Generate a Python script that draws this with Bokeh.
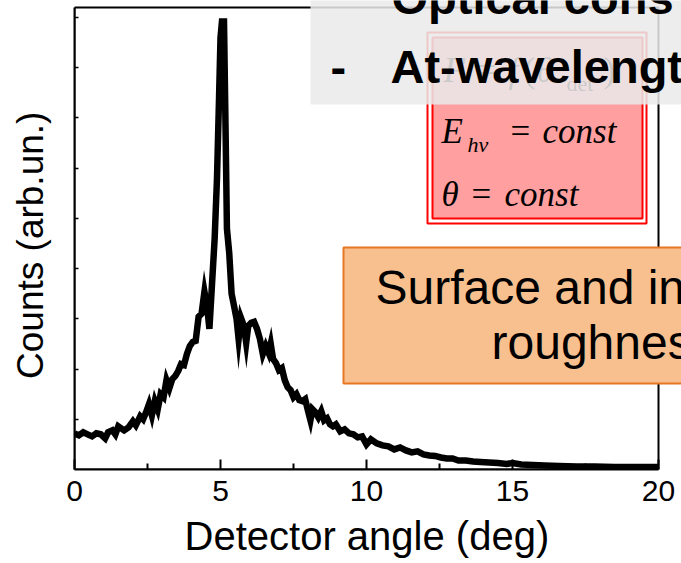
from bokeh.plotting import figure
from bokeh.models import BoxAnnotation, Label, FixedTicker, Range1d
from bokeh.embed import file_html
from bokeh.resources import INLINE

# ---------------- data ----------------
angle_deg = [0.00, 0.15, 0.30, 0.45, 0.60, 0.75, 0.90, 1.05, 1.15, 1.30,
             1.40, 1.50, 1.60, 1.70, 1.85, 2.00, 2.10, 2.25, 2.35, 2.45,
             2.55, 2.65, 2.75, 2.85, 2.95, 3.05, 3.15, 3.25, 3.35, 3.45,
             3.55, 3.65, 3.75, 3.85, 3.95, 4.05, 4.15, 4.25, 4.35, 4.45,
             4.55, 4.62, 4.70, 4.80, 4.88, 4.95, 5.00, 5.05, 5.12, 5.18,
             5.22, 5.30, 5.38, 5.45, 5.55, 5.62, 5.70, 5.80, 5.88, 5.95,
             6.05, 6.15, 6.25, 6.35, 6.45, 6.55, 6.65, 6.72, 6.80, 6.90,
             7.00, 7.10, 7.20, 7.30, 7.40, 7.50, 7.60, 7.70, 7.80, 7.90,
             8.00, 8.08, 8.15, 8.25, 8.35, 8.45, 8.55, 8.65, 8.75, 8.85,
             8.95, 9.10, 9.25, 9.40, 9.55, 9.70, 9.85, 10.00, 10.15, 10.35,
             10.55, 10.75, 10.95, 11.15, 11.35, 11.55, 11.75, 11.95, 12.15, 12.35,
             12.55, 12.75, 12.95, 13.15, 13.40, 13.65, 13.90, 14.20, 14.50, 14.80,
             15.00, 15.30, 15.70, 16.10, 16.60, 17.20, 17.80, 18.50, 19.20, 20.00]
counts = [0.72, 0.68, 0.74, 0.70, 0.66, 0.72, 0.70, 0.62, 0.74, 0.78,
          0.70, 0.86, 0.82, 0.78, 0.84, 0.96, 0.88, 1.06, 1.00, 1.14,
          1.30, 1.08, 1.36, 1.20, 1.50, 1.44, 1.78, 1.62, 1.80, 1.86,
          1.96, 2.10, 2.08, 2.30, 2.46, 2.54, 2.56, 3.04, 3.10, 3.54,
          3.20, 2.80, 3.60, 4.60, 5.80, 7.40, 8.60, 8.92, 8.92, 6.50,
          4.80, 4.30, 3.50, 3.30, 3.00, 2.60, 3.02, 2.86, 2.52, 2.86,
          2.92, 2.94, 2.80, 2.60, 2.30, 2.46, 2.32, 2.50, 2.20, 2.12,
          1.98, 2.02, 1.78, 1.64, 1.58, 1.44, 1.50, 1.38, 1.36, 1.40,
          1.16, 0.98, 1.20, 1.14, 1.04, 1.16, 0.98, 1.02, 0.90, 0.86,
          0.90, 0.76, 0.80, 0.72, 0.70, 0.64, 0.66, 0.50, 0.60, 0.52,
          0.48, 0.46, 0.40, 0.44, 0.38, 0.34, 0.36, 0.30, 0.28, 0.27,
          0.24, 0.22, 0.22, 0.18, 0.18, 0.16, 0.15, 0.14, 0.13, 0.11,
          0.13, 0.10, 0.09, 0.08, 0.07, 0.06, 0.06, 0.05, 0.05, 0.05]
x_ticks = [0, 5, 10, 15, 20]
x_minor_ticks = [2.5, 7.5, 12.5, 17.5]
y_ticks = [1, 2, 3, 4, 5, 6, 7, 8, 9]

# ---------------- layout ----------------
W, H = 681, 563
AX_L, AX_R, AX_T, AX_B = 74, 658, 7, 469      # axes box in pixels
X_END, Y_END = 20, 9.2                          # data value at the box's right / top
PX_X = (AX_R - AX_L) / X_END
PX_Y = (AX_B - AX_T) / Y_END
X1 = (W - AX_L) / PX_X                          # frame reaches the canvas' right edge
Y1 = AX_B / PX_Y                                # and its top edge

def dx(px):
    return (px - AX_L) / PX_X

def dy(py):
    return (AX_B - py) / PX_Y

SANS = "Liberation Sans"
SERIF = "Liberation Serif"
NBSP = "\u00a0"

p = figure(width=W, height=H, x_range=Range1d(0, X1), y_range=Range1d(0, Y1),
           output_backend="svg", toolbar_location=None,
           min_border_left=AX_L, min_border_right=0,
           min_border_top=0, min_border_bottom=H - AX_B)
p.outline_line_color = None
p.grid.visible = False
p.background_fill_color = "white"
p.border_fill_color = "white"

# axes box (top and right sides)
p.add_layout(BoxAnnotation(left=0, right=X_END, bottom=0, top=Y_END,
                           fill_alpha=0, line_color="black", line_alpha=1,
                           line_width=2, level="underlay"))

p.line(angle_deg, counts, line_color="black", line_width=6.5, line_join="miter")

# axes
xa = p.xaxis[0]
xa.bounds = (0, X_END)
xa.ticker = FixedTicker(ticks=x_ticks, minor_ticks=x_minor_ticks)
xa.axis_line_width = 2
xa.major_tick_line_width = 2
xa.minor_tick_line_width = 2
xa.major_tick_in = 10
xa.major_tick_out = 0
xa.minor_tick_in = 6
xa.minor_tick_out = 0
xa.major_label_text_font = SANS
xa.major_label_text_font_size = "30px"
xa.major_label_text_color = "black"
xa.major_label_standoff = 11
# trailing no-break spaces shift the centred title left onto the axes box centre
xa.axis_label = "Detector angle (deg)" + NBSP * 2
xa.axis_label_text_font = SANS
xa.axis_label_text_font_size = "40px"
xa.axis_label_text_font_style = "normal"
xa.axis_label_text_color = "black"
xa.axis_label_standoff = 10

ya = p.yaxis[0]
ya.bounds = (0, Y_END)
ya.ticker = FixedTicker(ticks=[], minor_ticks=y_ticks)
ya.axis_line_width = 2
ya.major_tick_in = 0
ya.major_tick_out = 0
ya.minor_tick_line_width = 1.5
ya.minor_tick_in = 4
ya.minor_tick_out = 0
ya.major_label_standoff = 0
ya.axis_label = "Counts (arb.un.)" + NBSP * 2
ya.axis_label_text_font = SANS
ya.axis_label_text_font_size = "37px"
ya.axis_label_text_font_style = "normal"
ya.axis_label_text_color = "black"
ya.axis_label_standoff = 24

# ---------------- pink formula box ----------------
p.add_layout(BoxAnnotation(left=dx(427), right=dx(646), top=dy(32), bottom=dy(223),
                           fill_color="white", fill_alpha=1, line_color="red",
                           line_alpha=1, line_width=2))
p.add_layout(BoxAnnotation(left=dx(432), right=dx(642), top=dy(37), bottom=dy(218),
                           fill_color="#FF9F9F", fill_alpha=1, line_color="red",
                           line_alpha=1, line_width=2))

def lab(px, py, text, font=SERIF, size=35, style="italic", color="black"):
    # py is the wanted baseline; Bokeh draws labels ~0.33 em lower than asked
    p.add_layout(Label(x=dx(px), y=dy(py - 0.33 * size), text=text, text_font=font,
                       text_font_size=f"{size}px", text_font_style=style,
                       text_color=color, text_align="left",
                       text_baseline="alphabetic"))

# faded formula (behind the grey banner)
lab(443, 82, "F")
lab(476, 82, "=", style="normal")
lab(508, 82, "f")
lab(523, 82, "(", style="normal")
lab(536, 82, "θ")
lab(566, 90, "det", size=22, style="normal")
lab(603, 82, ")", style="normal")

# E_hv = const
lab(441, 143, "E")
lab(467, 151, "hν", size=22)
lab(510, 143, "=", style="normal")
lab(542, 143, "const")
# theta = const
lab(441, 206, "θ")
lab(471, 206, "=", style="normal")
lab(504, 206, "const")

# ---------------- grey banner ----------------
p.add_layout(BoxAnnotation(left=dx(310), right=dx(720), top=dy(-20), bottom=dy(104),
                           fill_color="#EAEAEA", fill_alpha=0.86, line_alpha=0))
lab(391, 13, "Optical cons", font=SANS, size=47, style="bold")
lab(330, 82, "-", font=SANS, size=47, style="bold")
lab(390, 82, "At-wavelengt", font=SANS, size=47, style="bold")

# ---------------- orange box ----------------
p.add_layout(BoxAnnotation(left=dx(343), right=dx(720), top=dy(247), bottom=dy(383),
                           fill_color="#F9C08F", fill_alpha=1, line_color="#E87722",
                           line_alpha=1, line_width=2))
lab(375, 303, "Surface and in", font=SANS, size=48, style="normal")
lab(491, 358, "roughnes", font=SANS, size=48, style="normal")

open("out.html", "w").write(file_html(p, INLINE))
